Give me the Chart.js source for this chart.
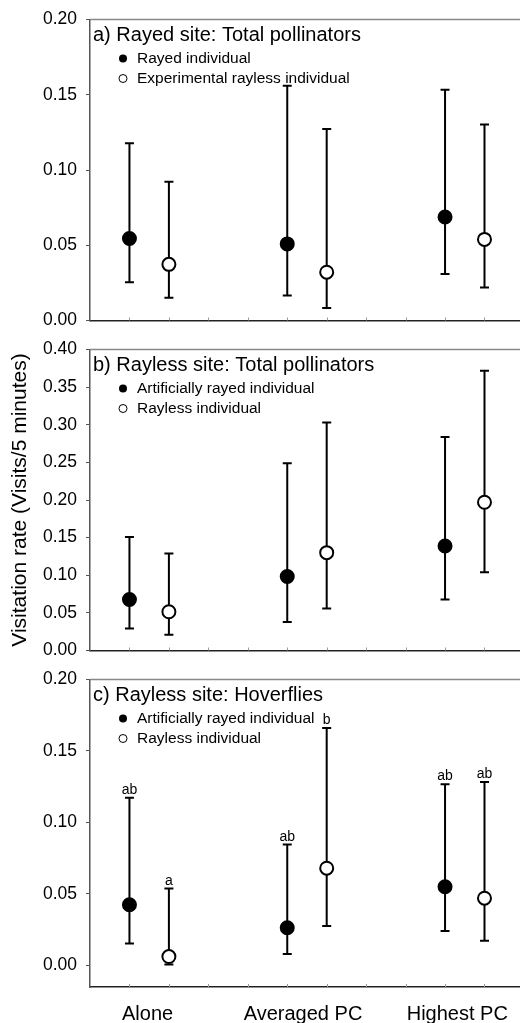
<!DOCTYPE html>
<html>
<head>
<meta charset="utf-8">
<script src="https://cdn.jsdelivr.net/npm/chart.js@4"></script>
<style>
  html, body { margin: 0; padding: 0; background: #fff; overflow: hidden; }
  body { width: 520px; height: 1023px; position: relative; }
  canvas { position: absolute; left: 0; }
</style>
</head>
<body>
<canvas id="panelA" width="520" height="340" style="top:0px"></canvas>
<canvas id="panelB" width="520" height="340" style="top:330px"></canvas>
<canvas id="panelC" width="520" height="363" style="top:660px"></canvas>
<script>
// treatments along the x axis; each group has a filled and an open point
const categories = ['Alone', 'Averaged PC', 'Highest PC'];
const catPos = [1.46, 5.4, 9.31];
const xFilled = [1, 5, 9];
const xOpen = [2, 6, 10];

// a) rayed site, total pollinators
const aRayed = [0.0545, 0.0509, 0.0688];
const aRayedLo = [0.0254, 0.0166, 0.0309];
const aRayedHi = [0.1178, 0.1560, 0.1534];
const aRayless = [0.0373, 0.0321, 0.0539];
const aRaylessLo = [0.0151, 0.0083, 0.0219];
const aRaylessHi = [0.0922, 0.1272, 0.1302];

// b) rayless site, total pollinators
const bRayed = [0.0677, 0.0984, 0.1389];
const bRayedLo = [0.0294, 0.0380, 0.0677];
const bRayedHi = [0.1508, 0.2490, 0.2837];
const bRayless = [0.0515, 0.1300, 0.1970];
const bRaylessLo = [0.0209, 0.0558, 0.1039];
const bRaylessHi = [0.1290, 0.3029, 0.3719];

// c) rayless site, hoverflies
const cRayed = [0.0424, 0.0263, 0.0550];
const cRayedLo = [0.0153, 0.0080, 0.0240];
const cRayedHi = [0.1173, 0.0845, 0.1267];
const cRayless = [0.0062, 0.0680, 0.0470];
const cRaylessLo = [0.0007, 0.0275, 0.0172];
const cRaylessHi = [0.0538, 0.1661, 0.1283];
const cRayedLetters = ['ab', 'ab', 'ab'];
const cRaylessLetters = ['a', 'b', 'ab'];

const FONT = '"Liberation Sans", Arial, sans-serif';
Chart.defaults.font.family = FONT;
Chart.defaults.color = '#000';

// extra drawing per panel: frame top, error bars, title, legend, letters
const panels = {
  panelA: {
    title: 'a) Rayed site: Total pollinators',
    legend: ['Rayed individual', 'Experimental rayless individual'],
    bars: [
      { x: xFilled, lo: aRayedLo, hi: aRayedHi },
      { x: xOpen, lo: aRaylessLo, hi: aRaylessHi }
    ]
  },
  panelB: {
    title: 'b) Rayless site: Total pollinators',
    legend: ['Artificially rayed individual', 'Rayless individual'],
    bars: [
      { x: xFilled, lo: bRayedLo, hi: bRayedHi },
      { x: xOpen, lo: bRaylessLo, hi: bRaylessHi }
    ]
  },
  panelC: {
    title: 'c) Rayless site: Hoverflies',
    legend: ['Artificially rayed individual', 'Rayless individual'],
    bars: [
      { x: xFilled, lo: cRayedLo, hi: cRayedHi, letters: cRayedLetters },
      { x: xOpen, lo: cRaylessLo, hi: cRaylessHi, letters: cRaylessLetters }
    ]
  }
};

const decor = {
  id: 'decor',
  beforeDatasetsDraw(chart) {
    const p = panels[chart.canvas.id];
    const { ctx, chartArea: area, scales: { x, y } } = chart;
    ctx.save();
    // top edge of the frame
    ctx.strokeStyle = '#888';
    ctx.lineWidth = 1.5;
    ctx.beginPath();
    ctx.moveTo(area.left, area.top);
    ctx.lineTo(area.right, area.top);
    ctx.stroke();
    // tiny inward ticks on the bottom axis
    ctx.strokeStyle = '#999';
    ctx.lineWidth = 1;
    for (let i = 1; i <= 10; i++) {
      const px = Math.round(x.getPixelForValue(i)) + 0.5;
      ctx.beginPath();
      ctx.moveTo(px, area.bottom);
      ctx.lineTo(px, area.bottom - 3);
      ctx.stroke();
    }
    // error bars with caps
    ctx.strokeStyle = '#000';
    ctx.lineWidth = 2;
    p.bars.forEach(b => {
      b.x.forEach((xv, i) => {
        const px = x.getPixelForValue(xv);
        const top = y.getPixelForValue(b.hi[i]);
        const bot = y.getPixelForValue(b.lo[i]);
        ctx.beginPath();
        ctx.moveTo(px, top); ctx.lineTo(px, bot);
        ctx.moveTo(px - 4.5, top); ctx.lineTo(px + 4.5, top);
        ctx.moveTo(px - 4.5, bot); ctx.lineTo(px + 4.5, bot);
        ctx.stroke();
      });
    });
    ctx.restore();
  },
  afterDatasetsDraw(chart) {
    const p = panels[chart.canvas.id];
    const { ctx, chartArea: area, scales: { x, y } } = chart;
    ctx.save();
    ctx.fillStyle = '#000';
    ctx.textBaseline = 'middle';
    ctx.textAlign = 'left';
    ctx.font = '20px ' + FONT;
    ctx.fillText(p.title, area.left + 3, area.top + 16);
    // legend
    ctx.font = '15.5px ' + FONT;
    p.legend.forEach((txt, i) => {
      const cy = area.top + 39 + i * 20;
      ctx.beginPath();
      ctx.arc(area.left + 33, cy, 4, 0, Math.PI * 2);
      if (i === 0) { ctx.fillStyle = '#000'; ctx.fill(); }
      else { ctx.fillStyle = '#fff'; ctx.fill(); ctx.lineWidth = 1; ctx.strokeStyle = '#000'; ctx.stroke(); }
      ctx.fillStyle = '#000';
      ctx.fillText(txt, area.left + 47, cy);
    });
    // significance letters
    ctx.font = '14px ' + FONT;
    ctx.textAlign = 'center';
    ctx.textBaseline = 'alphabetic';
    p.bars.forEach(b => {
      if (!b.letters) return;
      b.x.forEach((xv, i) => {
        ctx.fillText(b.letters[i], x.getPixelForValue(xv), y.getPixelForValue(b.hi[i]) - 4);
      });
    });
    ctx.restore();
  }
};

function makePanel(id, rayed, rayless, yMin, yMax, padTop, padBottom, opts) {
  const yTitle = opts.yTitle;
  const showCats = opts.showCats;
  return new Chart(document.getElementById(id), {
    type: 'scatter',
    data: {
      datasets: [
        {
          data: xFilled.map((xv, i) => ({ x: xv, y: rayed[i] })),
          backgroundColor: '#000', borderColor: '#000',
          pointRadius: 6.5, borderWidth: 2
        },
        {
          data: xOpen.map((xv, i) => ({ x: xv, y: rayless[i] })),
          backgroundColor: '#fff', borderColor: '#000',
          pointRadius: 6.5, borderWidth: 2
        }
      ]
    },
    options: {
      responsive: false,
      animation: false,
      events: [],
      layout: { autoPadding: false, padding: { top: padTop, bottom: padBottom, left: 0, right: 0 } },
      plugins: { legend: { display: false }, tooltip: { enabled: false } },
      scales: {
        x: {
          type: 'linear', min: 0, max: 10.9,
          afterFit: s => { s.height = showCats ? 36 : 0; },
          afterBuildTicks: s => { s.ticks = catPos.map(v => ({ value: v })); },
          grid: { display: false },
          border: { display: true, color: '#222', width: 1.5 },
          ticks: {
            display: showCats,
            padding: 7,
            maxRotation: 0,
            font: { size: 20 },
            callback: v => categories[catPos.indexOf(v)]
          }
        },
        y: {
          min: yMin, max: yMax,
          afterFit: s => { s.width = 90; },
          grid: { drawOnChartArea: false, drawTicks: true, tickLength: 4, color: '#555' },
          border: { display: true, color: '#555', width: 1.5 },
          title: {
            display: !!yTitle, text: yTitle || '',
            font: { size: 21 }, padding: { top: 8, bottom: 0 }
          },
          ticks: {
            stepSize: 0.05, includeBounds: false, padding: 9,
            font: { size: 17.5 },
            callback: v => v.toFixed(2)
          }
        }
      }
    },
    plugins: [decor]
  });
}

makePanel('panelA', aRayed, aRayless, 0, 0.2, 14, 14, {});
makePanel('panelB', bRayed, bRayless, 0, 0.4, 13, 13, { yTitle: 'Visitation rate (Visits/5 minutes)' });
makePanel('panelC', cRayed, cRayless, -0.0151, 0.2, 14, 0, { showCats: true });
</script>
</body>
</html>
